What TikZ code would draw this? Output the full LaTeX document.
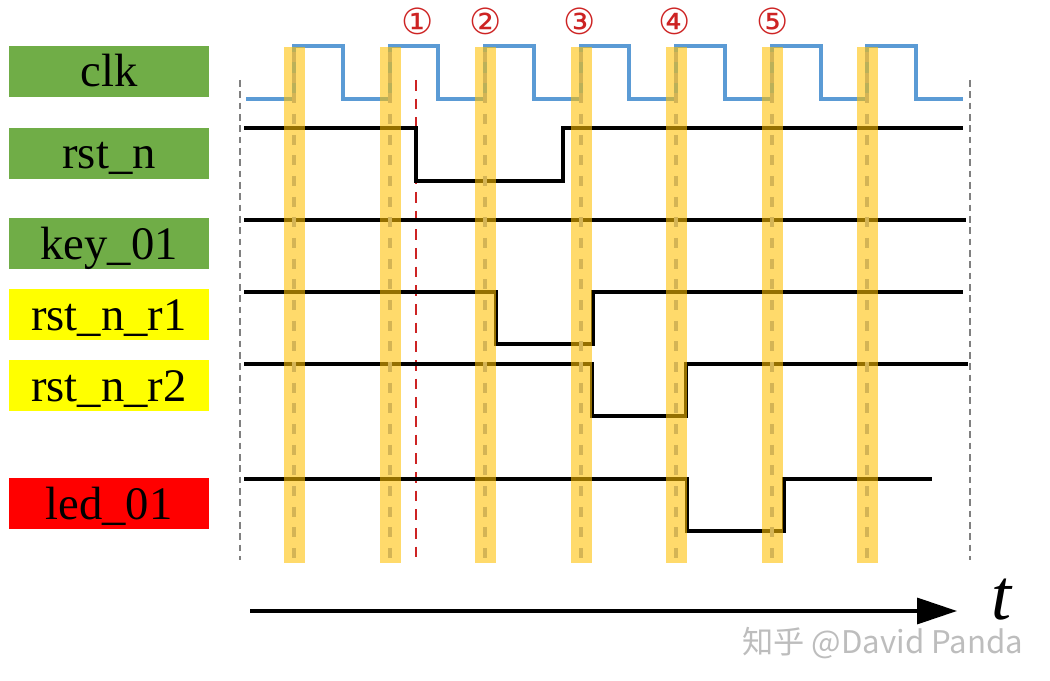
\documentclass[tikz,border=0pt]{standalone}
\usepackage{fontspec}
\setmainfont{Liberation Serif}
\newfontfamily\circfont{DejaVu Sans}
\newfontfamily\cjkfont{Noto Sans CJK SC}
\usetikzlibrary{arrows.meta}
\definecolor{clkblue}{RGB}{91,155,213}
\definecolor{lblgreen}{RGB}{112,173,71}
\definecolor{lblyellow}{RGB}{255,255,0}
\definecolor{lblred}{RGB}{255,0,0}
\definecolor{bandgold}{RGB}{255,192,0}
\definecolor{banddash}{RGB}{212,180,85}
\definecolor{markred}{RGB}{205,35,35}
\definecolor{guidegray}{RGB}{128,128,128}
\begin{document}
\begin{tikzpicture}[x=0.75pt,y=-0.75pt,
  lbltext/.style={anchor=base, inner sep=0pt, font=\fontsize{35}{40}\selectfont},
  sig/.style={black, line width=2.5pt, line join=miter},
  clksig/.style={clkblue, line width=2.6pt, line join=miter},
  band/.style={fill=bandgold, fill opacity=0.58},
  bandmid/.style={banddash, line width=2.4pt, dash pattern=on 7.5pt off 8pt},
  guide/.style={guidegray, line width=1.3pt, dash pattern=on 5pt off 3.5pt},
  marker/.style={markred, line width=1.8pt, dash pattern=on 8pt off 6pt},
  circnum/.style={text=markred, inner sep=0pt, font=\circfont\fontsize{27}{29}\selectfont},
  timearrow/.style={-{Triangle[length=30pt,width=19.5pt]}, line width=2.6pt}
]
\useasboundingbox (0,0) rectangle (1050,681);

% signal name boxes
\fill[lblgreen] (9,46) rectangle (209,97);
\node[lbltext] (lclk) at (109,87) {clk};
\fill[lblgreen] (9,128) rectangle (209,179);
\node[lbltext] (lrst) at (109,169) {rst\_n};
\fill[lblgreen] (9,218) rectangle (209,269);
\node[lbltext] (lkey) at (109,259) {key\_01};
\fill[lblyellow] (9,289) rectangle (209,340);
\node[lbltext] (lr1) at (109,330) {rst\_n\_r1};
\fill[lblyellow] (9,360) rectangle (209,411);
\node[lbltext] (lr2) at (109,401) {rst\_n\_r2};
\fill[lblred] (9,478) rectangle (209,529);
\node[lbltext] (lled) at (109,519) {led\_01};

% guide lines
\draw[guide] (240,80) -- (240,560);
\draw[guide] (970,80) -- (970,560);

% clock
\draw[clksig] (246,99) -- (294,99) -- (294,46) -- (343,46) -- (343,99)
  -- (390,99) -- (390,46) -- (438,46) -- (438,99)
  -- (485,99) -- (485,46) -- (534,46) -- (534,99)
  -- (581,99) -- (581,46) -- (629,46) -- (629,99)
  -- (676,99) -- (676,46) -- (725,46) -- (725,99)
  -- (772,99) -- (772,46) -- (821,46) -- (821,99)
  -- (867,99) -- (867,46) -- (916,46) -- (916,99) -- (963,99);

% marker line
\draw[marker] (416,80) -- (416,560);

% signals
\draw[sig] (244,128) -- (416,128) -- (416,181) -- (563,181) -- (563,128) -- (963,128);
\draw[sig] (244,220) -- (966,220);
\draw[sig] (244,292) -- (496,292) -- (496,344) -- (593,344) -- (593,292) -- (963,292);
\draw[sig] (244,364) -- (592,364) -- (592,416) -- (686,416) -- (686,364) -- (968,364);
\draw[sig] (244,479) -- (687,479) -- (687,531) -- (784,531) -- (784,479) -- (932,479);

% sampling bands
\foreach \c in {294,390,485,581,676,772,867}{
  \fill[band] (\c-10.5,47) rectangle (\c+10.5,563);
  \draw[bandmid] (\c,52) -- (\c,560);
}

% edge numbers
\node[circnum] (n1) at (418,21) {①};
\node[circnum] (n2) at (486,21) {②};
\node[circnum] (n3) at (580,21) {③};
\node[circnum] (n4) at (675,21) {④};
\node[circnum] (n5) at (773,21) {⑤};

% time axis
\coordinate (tstart) at (250,611);
\coordinate (tend) at (957,611);
\draw[timearrow] (tstart) -- (tend);
\node[anchor=base, inner sep=0pt, font=\fontsize{54}{60}\selectfont\itshape] (tlabel) at (1001,619) {t};

% watermark
\node[anchor=base west, inner sep=0pt, text height=16pt, text depth=3pt, text=black!26, font=\cjkfont\fontsize{23.4}{26}\selectfont] (wm) at (742,653) {知乎 @David Panda};
\end{tikzpicture}
\end{document}
